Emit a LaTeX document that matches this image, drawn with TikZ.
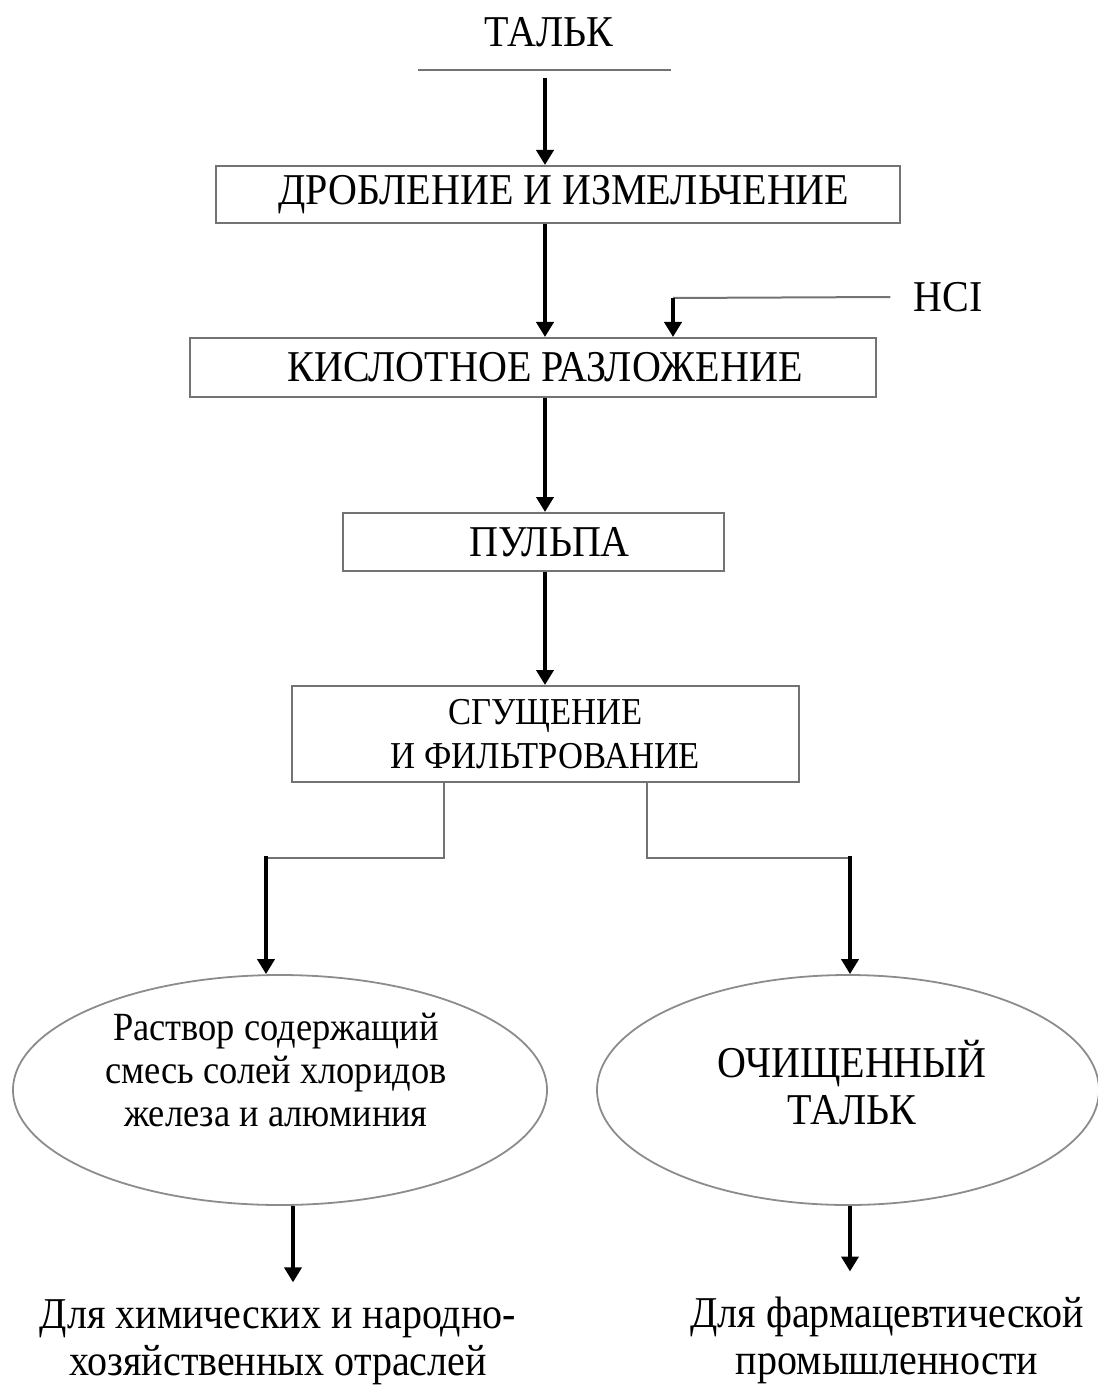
\documentclass[tikz,border=0pt]{standalone}
\usepackage{fontspec}
\setmainfont{Liberation Serif}[FakeStretch=0.91]
\usepackage{tikz}
\usetikzlibrary{positioning}
\usetikzlibrary{shapes,arrows.meta}

\begin{document}
\begin{tikzpicture}[x=0.5pt, y=-0.5pt,
  box/.style={draw=black!55, line width=1pt, inner sep=0pt, align=center, font=\fontsize{22}{22}\selectfont},
  oval/.style={draw=black!45, line width=0.9pt, ellipse, inner sep=0pt, align=center},
  flow/.style={draw, -{Triangle[width=8.5pt,length=7.5pt]}, line width=2pt},
  link/.style={draw=black!55, line width=1pt}]

\useasboundingbox (0,0) rectangle (1097,1385);

% source

\node [font=\fontsize{22}{22}\selectfont] at (549,32) (talk) {ТАЛЬК};
\draw [link] (418,70) -- (671,70);
\coordinate (spine) at (545,78);

% stages

\node [box, minimum width=342pt, minimum height=28.5pt] at (558,194.5) (crush) {\hspace*{6pt}ДРОБЛЕНИЕ И ИЗМЕЛЬЧЕНИЕ};
\node [box, minimum width=343pt, minimum height=29.5pt] at (533,367.5) (acid) {\hspace*{12pt}КИСЛОТНОЕ РАЗЛОЖЕНИЕ};
\node [box, minimum width=190.5pt, minimum height=29pt] at (533.5,542) (pulp) {\hspace*{16pt}ПУЛЬПА};
\node [box, minimum width=253.5pt, minimum height=48pt, font=\fontsize{19}{22}\selectfont] at (545.5,734) (filt) {СГУЩЕНИЕ\\И ФИЛЬТРОВАНИЕ};

\path [flow] (spine) to (spine |- crush.north);
\path [flow] (spine |- crush.south) to (spine |- acid.north);
\path [flow] (spine |- acid.south) to (spine |- pulp.north);
\path [flow] (spine |- pulp.south) to (spine |- filt.north);

% reagent

\node [font=\fontsize{22}{22}\selectfont] at (948,297) (hcl) {HCI};
\coordinate (hclturn) at (673,298);
\path [link] ([xshift=-8pt]hcl.west) to (hclturn);
\path [flow] (hclturn) to (hclturn |- acid.north);

% products

\node [oval, minimum width=267pt, minimum height=115pt] at (280,1090) (sol) {};
\node [align=center, font=\fontsize{20}{21.5}\selectfont] at ([xshift=-2pt, yshift=10pt]sol.center) (soltext) {Раствор содержащий\\смесь солей хлоридов\\железа и алюминия};
\node [oval, minimum width=251pt, minimum height=115pt] at (848,1090) (pure) {};
\node [align=center, font=\fontsize{22}{23.5}\selectfont] at ([xshift=2pt, yshift=3.5pt]pure.center) (puretext) {ОЧИЩЕННЫЙ\\ТАЛЬК};

\coordinate (lturn) at (266,858);
\coordinate (rturn) at (850,858);
\path [link] ([xshift=-50.75pt]filt.south) |- (lturn);
\path [link] ([xshift=50.75pt]filt.south) |- (rturn);
\path [flow] ([yshift=1pt]lturn) to (lturn |- sol.north);
\path [flow] ([yshift=1pt]rturn) to (rturn |- pure.north);

% uses

\node [align=center, font=\fontsize{22}{23.5}\selectfont] at (278,1342) (use1) {Для химических и народно-\\хозяйственных отраслей};
\node [align=center, font=\fontsize{22}{23.5}\selectfont] at (887,1340) (use2) {Для фармацевтической\\промышленности};

\coordinate (ldown) at (293,1205);
\path [flow] (ldown |- sol.south) to ([yshift=5pt]ldown |- use1.north);
\path [flow] (pure.south -| rturn) to ([yshift=9pt]rturn |- use2.north);

\end{tikzpicture}
\end{document}
